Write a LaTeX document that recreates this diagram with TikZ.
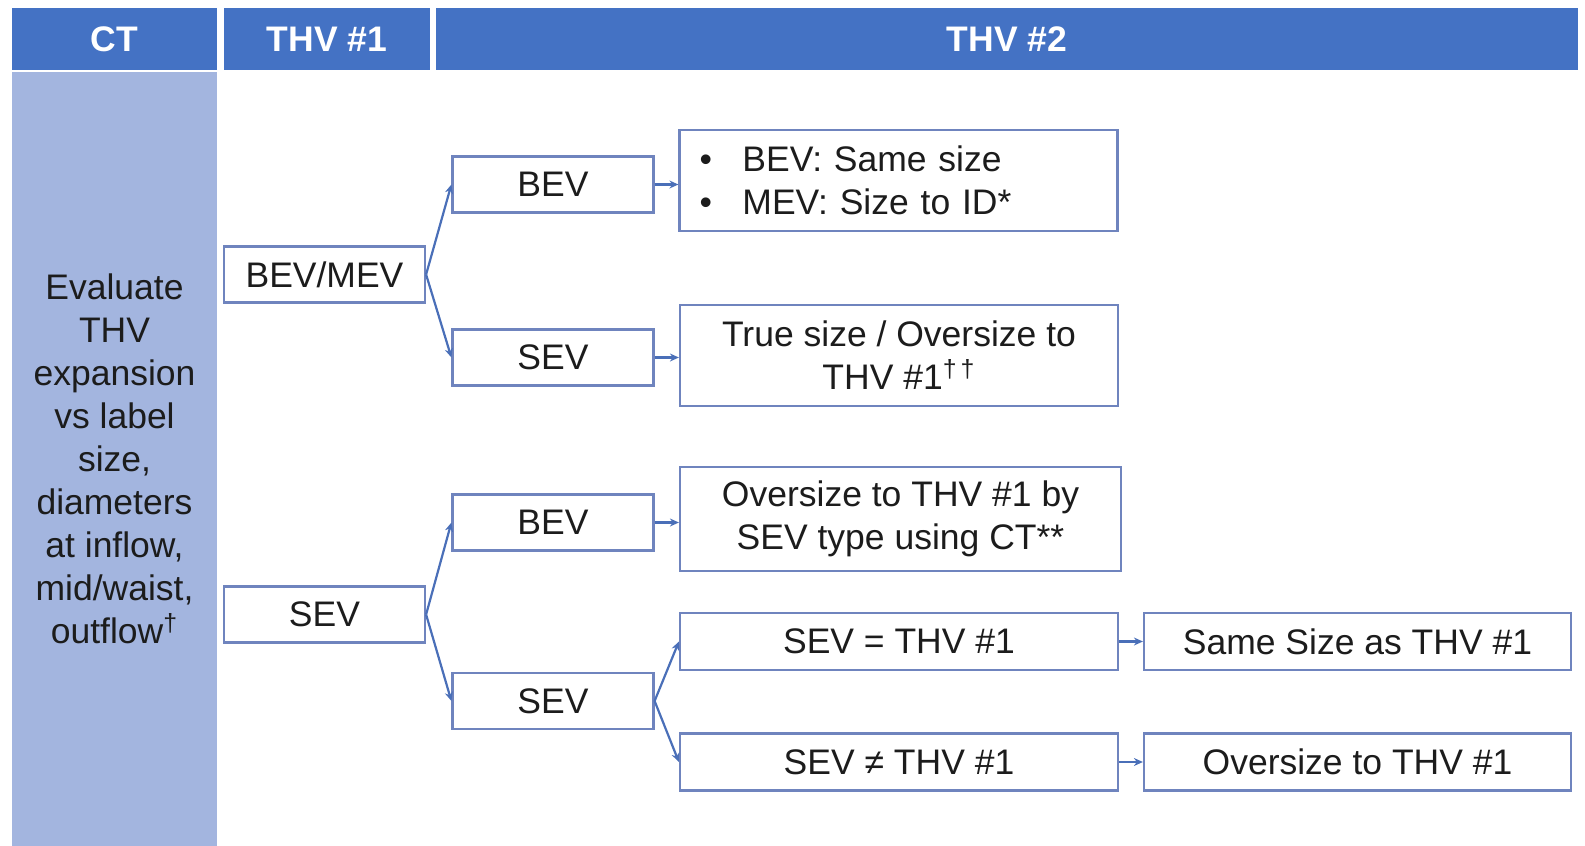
\documentclass[tikz,border=0pt]{standalone}
\usepackage{fontspec}
\setmainfont{Liberation Sans}
\usetikzlibrary{arrows.meta}
\definecolor{headblue}{HTML}{4472C4}
\definecolor{paleblue}{HTML}{A3B5DF}
\definecolor{boxline}{HTML}{6F84BE}
\definecolor{arrowblue}{HTML}{4A6FB8}
\definecolor{ink}{HTML}{1C1C1C}

\begin{document}
\begin{tikzpicture}[x=0.5pt,y=-0.5pt,
  font=\fontsize{17.75}{21.5}\selectfont,
  head/.style={fill=headblue,text=white,font=\fontsize{17.75}{21.5}\selectfont\bfseries,minimum height=31pt,inner sep=0pt},
  box/.style={draw=boxline,line width=1.1pt,fill=white,text=ink,inner sep=0pt,align=center},
  small/.style={box,minimum width=100.5pt,minimum height=28pt},
  wide/.style={box,minimum width=219pt},
  arr/.style={-{Stealth[length=4.5pt,width=4pt]},arrowblue,line width=1.1pt}]
\useasboundingbox (0,0) rectangle (1585,846);
% column headers
\node[head,minimum width=102.5pt] (hct) at (114.5,39) {CT};
\node[head,minimum width=103pt] (hthva) at (327,39) {THV \#1};
\node[head,minimum width=571pt] (hthvb) at (1007,39) {THV \#2};
\node[fill=paleblue,text=ink,minimum width=102.5pt,minimum height=387pt,align=center,inner sep=0pt] (ctcol) at (114.5,459)
  {Evaluate\\THV\\expansion\\vs label\\size,\\diameters\\at inflow,\\mid/waist,\\outflow\textsuperscript{†}};
% THV #1
\node[small] (bevmev) at (324.5,274.5) {BEV/MEV};
\node[small] (sevone) at (324.5,614.5) {SEV};
% THV #2, first choice
\node[small] (beva) at (553,184.5) {BEV};
\node[small] (seva) at (553,357.5) {SEV};
\node[small] (bevb) at (553,522.5) {BEV};
\node[small] (sevb) at (553,701) {SEV};
% outcomes
\node[wide,minimum height=50.5pt,align=left,text width=199pt,inner xsep=10pt] (notea) at (898.5,180.5)
  {\makebox[21.5pt][l]{•}BEV: Same size\\\makebox[21.5pt][l]{•}MEV: Size to ID*};
\node[wide,minimum height=50.5pt] (noteb) at (899,355.5) {True size / Oversize to\\THV \#1\textsuperscript{†\,†}};
\node[wide,minimum width=220.5pt,minimum height=52pt] (notec) at (900.5,519) {Oversize to THV \#1 by\\SEV type using CT**};
\node[wide,minimum height=28.5pt] (same) at (899,641.5) {SEV = THV \#1};
\node[wide,minimum height=28.5pt] (diff) at (899,762) {SEV ≠ THV \#1};
\node[box,minimum width=213.5pt,minimum height=28.5pt] (samesize) at (1357.5,641.5) {Same Size as THV \#1};
\node[box,minimum width=213.5pt,minimum height=28.5pt] (oversize) at (1357.5,762) {Oversize to THV \#1};
% connectors
\draw[arr] (bevmev.east) -- (beva.west);
\draw[arr] (bevmev.east) -- (seva.west);
\draw[arr] (sevone.east) -- (bevb.west);
\draw[arr] (sevone.east) -- (sevb.west);
\draw[arr] (sevb.east) -- (same.west);
\draw[arr] (sevb.east) -- (diff.west);
\draw[arr] (beva) -- (beva -| notea.west);
\draw[arr] (seva) -- (seva -| noteb.west);
\draw[arr] (bevb) -- (bevb -| notec.west);
\draw[arr] (same) -- (samesize);
\draw[arr] (diff) -- (oversize);
\end{tikzpicture}
\end{document}
